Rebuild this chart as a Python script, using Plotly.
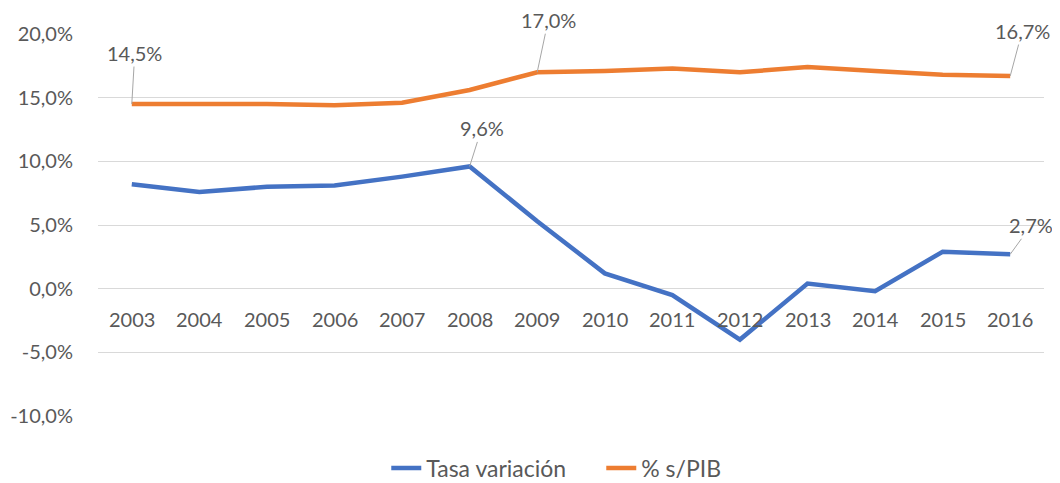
import plotly.graph_objects as go

years = ["2003", "2004", "2005", "2006", "2007", "2008", "2009", "2010",
         "2011", "2012", "2013", "2014", "2015", "2016"]
tasa_variacion = [8.2, 7.6, 8.0, 8.1, 8.8, 9.6, 5.3, 1.2, -0.5, -4.0, 0.4, -0.2, 2.9, 2.7]
pct_pib = [14.5, 14.5, 14.5, 14.4, 14.6, 15.6, 17.0, 17.1, 17.3, 17.0, 17.4, 17.1, 16.8, 16.7]
y_ticks = [-10, -5, 0, 5, 10, 15, 20]
y_ticktext = ["-10,0%", "-5,0%", "0,0%", "5,0%", "10,0%", "15,0%", "20,0%"]

# labelled points: (series, index, x offset px, y offset px)
labels = [
    (pct_pib, 0, 3, -51),
    (pct_pib, 6, 11, -52),
    (pct_pib, 13, 12, -45),
    (tasa_variacion, 5, 12, -38),
    (tasa_variacion, 13, 21, -29),
]

FONT = "Lato"
TXT = "#595959"

fig = go.Figure()
fig.add_trace(go.Scatter(x=years, y=tasa_variacion, mode="lines", name="Tasa variación",
                         line=dict(color="#4472C4", width=4.5)))
fig.add_trace(go.Scatter(x=years, y=pct_pib, mode="lines", name="% s/PIB",
                         line=dict(color="#ED7D31", width=4.5)))

for series, i, ax, ay in labels:
    fig.add_annotation(x=i, y=series[i], text=f"{series[i]:.1f}".replace(".", ",") + "%",
                       showarrow=True, arrowhead=0, arrowwidth=1, arrowcolor="#A6A6A6",
                       ax=ax, ay=ay, font=dict(family=FONT, size=20, color=TXT))

# year labels sit just below the 0 % line, as in the original
for i, yr in enumerate(years):
    fig.add_annotation(x=i, y=0, text=yr, showarrow=False, yshift=-30,
                       font=dict(family=FONT, size=20, color=TXT))

# the page adds an 8px body margin, so the figure is drawn 8px in from the top-left
fig.update_layout(
    width=1052, height=475,
    margin=dict(l=90, r=16, t=26, b=67, autoexpand=False),
    paper_bgcolor="white", plot_bgcolor="white",
    font=dict(family=FONT, size=20, color=TXT),
    showlegend=True,
    legend=dict(orientation="h", x=0.532, xanchor="center", y=-0.136, yanchor="middle",
                entrywidth=170, entrywidthmode="pixels",
                font=dict(family=FONT, size=23, color=TXT)),
    xaxis=dict(type="category", range=[-0.5, 13.5], showgrid=False, zeroline=False,
               showline=False, showticklabels=False, automargin=False),
    yaxis=dict(range=[-10, 20], tickvals=y_ticks, ticktext=y_ticktext,
               showgrid=True, gridcolor="#D9D9D9", gridwidth=1,
               zeroline=True, zerolinecolor="#D9D9D9", zerolinewidth=1,
               showline=False, automargin=False,
               ticks="outside", ticklen=20, tickcolor="rgba(0,0,0,0)",
               tickfont=dict(family=FONT, size=20, color=TXT)),
)

fig.write_html("out.html")
